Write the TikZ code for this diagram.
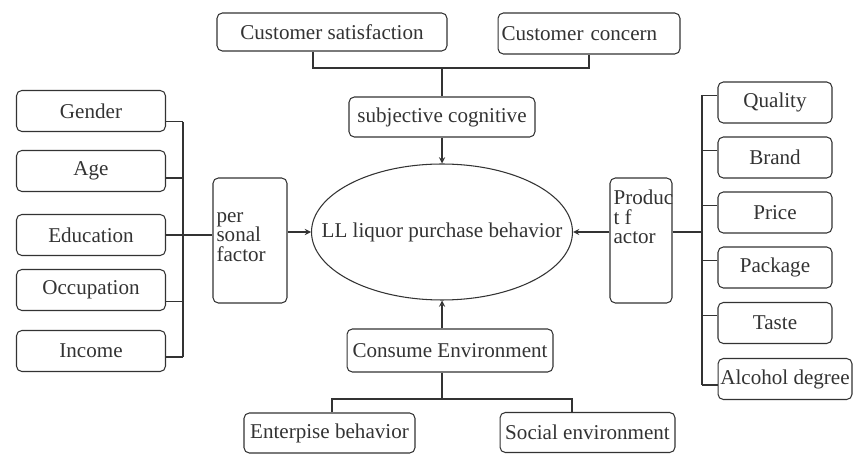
\documentclass[tikz,border=0pt]{standalone}
\usepackage{fontspec}
\setmainfont{Liberation Serif}
\usetikzlibrary{shapes.geometric}

\begin{document}
\begin{tikzpicture}[x=0.02cm, y=-0.02cm, line width=0.6pt, color=black!80, font=\fontsize{12}{11}\selectfont,
		fbox/.style={draw, rectangle, rounded corners=3pt, minimum height=0.82cm, inner sep=1pt},
		lbox/.style={fbox, minimum width=2.98cm},
		rbox/.style={fbox, minimum width=2.28cm}]
				\useasboundingbox (0,0) rectangle (854,455);
				\node[draw, ellipse, minimum width=5.22cm, minimum height=2.72cm, inner sep=0pt] (llb)at(442, 232) {};
				\node[inner sep=0pt] (llbtxt)at(llb.center) {LL liquor purchase behavior};
				\node[lbox] (gen)at(91, 111) {Gender};
				\node[lbox] (age)at(91, 171) {Age};
				\node[lbox] (edu)at(91, 235) {Education};
				\node[lbox] (occ)at(91, 290) {Occupation};
				\node[lbox] (inc)at(91, 351) {Income};
				\node[fbox, minimum width=1.48cm, minimum height=2.5cm] (pers)at(250, 240.5) {};
				\node[anchor=west, align=left, inner sep=0pt] (perstxt)at([xshift=2pt, yshift=2pt]pers.west) {per\\sonal\\factor};
				\node[fbox, minimum width=1.24cm, minimum height=2.5cm] (prod)at(641, 240.5) {};
				\node[anchor=north west, align=left, inner sep=0pt] (prodtxt)at([xshift=2pt, yshift=-7pt]prod.north west) {Produc\\t f\\actor};
				\node[rbox] (qua)at(775, 102.5) {Quality};
				\node[rbox] (bra)at(775, 157.5) {Brand};
				\node[rbox] (pri)at(775, 212.5) {Price};
				\node[rbox] (pac)at(775, 267.5) {Package};
				\node[rbox] (tas)at(775, 323) {Taste};
				\node[rbox, minimum width=2.68cm, inner sep=0pt] (alc)at(785, 379) {Alcohol degree};
				\node[fbox, minimum width=4.6cm, minimum height=0.76cm] (csat)at(332, 32) {Customer satisfaction};
				\node[fbox, minimum width=3.64cm, text width=3.5cm, align=left] (ccon)at(589, 33.5) {Customer concern};
				\node[fbox, minimum width=3.72cm, minimum height=0.8cm] (subj)at(442, 117) {subjective cognitive};
				\node[fbox, minimum width=4.12cm, minimum height=0.86cm] (cons)at(450, 350.5) {Consume Environment};
				\node[fbox, minimum width=3.42cm, minimum height=0.8cm] (ent)at(329.5, 433) {Enterpise behavior};
				\node[fbox, minimum width=3.5cm, minimum height=0.8cm] (soc)at(587.5, 432.5) {Social environment};
				\coordinate (tbus)at(442, 68);
				\coordinate (bbus)at(442, 399);
				\coordinate (lbt)at(183, 122);
				\coordinate (lbb)at(183, 357);
				\coordinate (rbt)at(702, 95);
				\coordinate (rbb)at(702, 385);
				\draw ([xshift=-0.38cm]csat.south) |- (tbus) -| (ccon.south);
				\draw (tbus) -- (subj.north);
				\draw[->, >=stealth] (subj) -- (llb);
				\draw[->, >=stealth] (cons.north -| llb) -- (llb.south);
				\draw (cons.south -| bbus) -- (bbus);
				\draw ([xshift=0.05cm]ent.north) |- (bbus) -| ([xshift=-0.31cm]soc.north);
				\draw (lbt) -- (lbb);
				\foreach \n/\d in {gen/-6.2, age/-4, occ/-6.8, inc/-3.4}
					\draw ([yshift=\d pt]\n.east) -- ++(17, 0);
				\draw (edu.east) -- (edu.east -| pers.west);
				\draw[->, >=stealth] (pers.east |- llb) -- (llb.west);
				\draw[->, >=stealth] (prod.west |- llb) -- (llb.east);
				\draw (prod.east |- llb) -- (rbt |- llb);
				\draw (rbt) -- (rbb);
				\foreach \n in {qua, bra, pri, pac, tas}
					\draw ([yshift=4pt]\n.west) -- ++(-16, 0);
				\draw ([yshift=-3.4pt]alc.west) -- ++(-16, 0);
			\end{tikzpicture}
\end{document}
